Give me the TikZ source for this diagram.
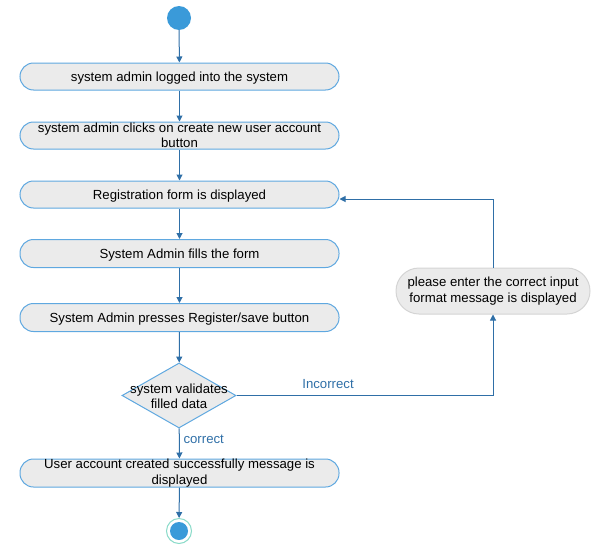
\documentclass[tikz,border=0pt]{standalone}
\usepackage{fontspec}
\setmainfont{Liberation Sans}
\usetikzlibrary{shapes.geometric,arrows.meta}
\definecolor{flowline}{HTML}{2F6FA7}
\definecolor{boxedge}{HTML}{5FA8E0}
\definecolor{boxfill}{HTML}{EBEBEB}
\definecolor{dotblue}{HTML}{3A9AD9}
\definecolor{endring}{HTML}{8ADBC9}
\definecolor{msgedge}{HTML}{D4D4D4}

\begin{document}
\begin{tikzpicture}[x=1pt, y=-1pt,
    every node/.style={font=\fontsize{13.2}{15.5}\selectfont},
    activity/.style={rectangle, rounded corners=13.5pt, draw=boxedge, fill=boxfill,
      line width=1pt, minimum width=319pt, minimum height=28pt, inner sep=0pt, align=center},
    oneline/.style={text depth=0pt},
    decision/.style={diamond, aspect=1.754, draw=boxedge, fill=boxfill, line width=1pt,
      minimum width=114pt, minimum height=65pt, inner sep=0pt},
    flow/.style={draw=flowline, line width=1pt, -{Triangle[length=6pt,width=6pt]}},
    guard/.style={text=flowline}]
      \useasboundingbox (0,0) rectangle (596,546);
      % start and end
      \node [circle, fill=dotblue, minimum size=24pt, inner sep=0pt] (start) at (179,18) {};
      \node [circle, draw=endring, fill=white, line width=1pt, minimum size=25pt, inner sep=0pt,
        path picture={\fill [dotblue] (path picture bounding box.center) circle (9pt);}] (finish) at (179,531) {};
      % activities
      \node [activity, oneline, minimum height=27pt] (login) at (179.5,76.5) {system admin logged into the system};
      \node [activity, minimum height=27pt] (click) at (179.5,135.5) {system admin clicks on create new user account\\button};
      \node [activity, oneline, minimum height=27pt] (regform) at (179.5,194.5) {Registration form is displayed};
      \node [activity, oneline] (fillform) at (179.5,253.5) {System Admin fills the form};
      \node [activity, oneline] (press) at (179.5,317.5) {System Admin presses Register/save button};
      \node [decision, label={[align=center, yshift=-1pt]center:system validates\\filled data}] (validate) at (179,395.5) {};
      \node [activity] (created) at (179.5,473) {User account created successfully message is\\displayed};
      \node [activity, draw=msgedge, rounded corners=23pt, minimum width=194pt, minimum height=46pt] (errmsg) at (493,291) {please enter the correct input\\format message is displayed};
      % connectors
      \draw [flow] (start) -- (login);
      \draw [flow] (login) -- (click);
      \draw [flow] (click) -- (regform);
      \draw [flow] (regform) -- (fillform);
      \draw [flow] (fillform) -- (press);
      \draw [flow] (press) -- (validate);
      \draw [flow] (validate) -- (created);
      \draw [flow] (created) -- (finish);
      \draw [flow] (validate.east) -| (errmsg.south);
      \draw [flow] (errmsg.north) |- ([yshift=-4.5pt]regform.east);
      % guards
      \node [guard] (wrong) at (328,384) {Incorrect};
      \node [guard, anchor=west] (right) at (180,439) {correct};
    \end{tikzpicture}
\end{document}
